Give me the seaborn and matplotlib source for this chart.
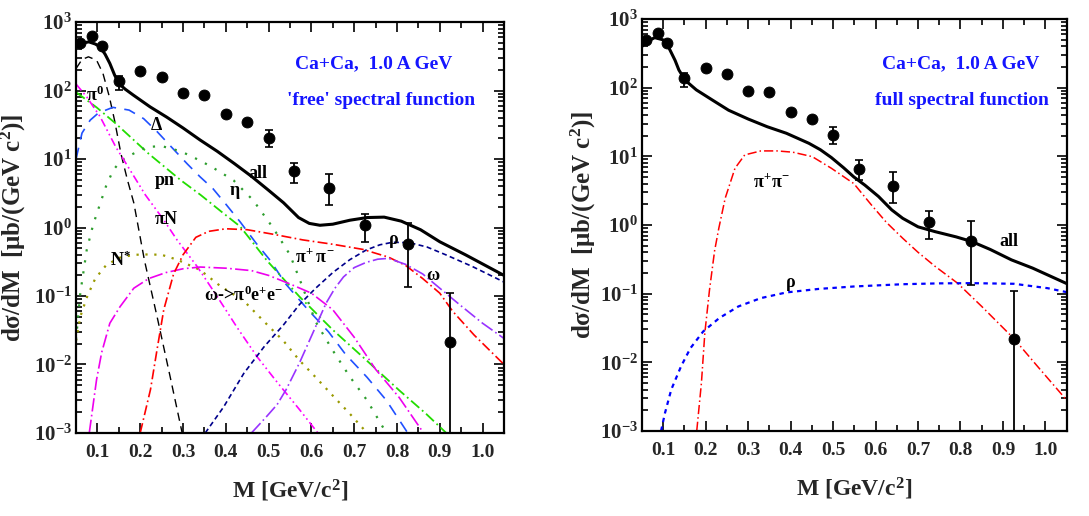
import matplotlib
matplotlib.use('Agg')
import numpy as np
import matplotlib.pyplot as plt
import matplotlib.ticker as mticker
import seaborn as sns

# --- measured points (same in both panels)
m_data = [0.06, 0.087, 0.11, 0.15, 0.2, 0.25, 0.3, 0.35, 0.4, 0.45, 0.5, 0.56, 0.64, 0.725, 0.825, 0.925]
y_data = [495, 635, 450, 139, 192, 156, 91, 87, 45, 35, 20.5, 6.6, 3.75, 1.1, 0.58, 0.0215]
y_low = [495, 635, 450, 103, 192, 156, 91, 87, 45, 35, 15, 4.5, 2.1, 0.62, 0.135, 0.0001]
y_high = [495, 635, 450, 165, 192, 156, 91, 87, 45, 35, 27, 8.8, 6.0, 1.6, 1.16, 0.11]

# --- left panel: 'free' spectral function
all_free_x = [0.05, 0.065, 0.08, 0.095, 0.106, 0.118, 0.129, 0.14, 0.15, 0.165, 0.184, 0.223, 0.262, 0.30, 0.34,
              0.38, 0.42, 0.46, 0.50, 0.535, 0.57, 0.595, 0.62, 0.65, 0.69, 0.73, 0.77, 0.81, 0.855, 0.90, 0.96, 1.05]
all_free_y = [430, 495, 516, 480, 437, 340, 250, 170, 127, 105, 86, 58, 41, 28.5, 19, 13, 8.6, 5.6, 3.5, 2.3,
              1.4, 1.15, 1.08, 1.12, 1.28, 1.40, 1.42, 1.24, 0.93, 0.62, 0.40, 0.2]
pi0_x = [0.05, 0.064, 0.079, 0.098, 0.113, 0.128, 0.14, 0.155, 0.17, 0.185, 0.21, 0.24, 0.27, 0.298]
pi0_y = [210, 285, 312, 279, 178, 81, 37, 12, 5.0, 2.3, 0.33, 0.048, 0.0066, 0.001]
delta_x = [0.05, 0.064, 0.083, 0.102, 0.136, 0.174, 0.208, 0.24, 0.273, 0.31, 0.34, 0.37, 0.40, 0.434, 0.47,
           0.504, 0.54, 0.59, 0.64, 0.68, 0.73, 0.775, 0.825]
delta_y = [10, 24, 37, 47, 57, 52, 39, 25, 15, 8.5, 5.5, 3.7, 2.2, 1.2, 0.6, 0.33, 0.15, 0.065, 0.03, 0.014,
           0.0065, 0.003, 0.001]
pn_x = [0.05, 0.098, 0.143, 0.181, 0.219, 0.257, 0.295, 0.341, 0.39, 0.434, 0.496, 0.572, 0.65, 0.728, 0.805,
        0.868, 0.915]
pn_y = [95, 57, 33, 20, 12.1, 7.7, 4.9, 3.0, 1.7, 1.03, 0.33, 0.098, 0.032, 0.0116, 0.0042, 0.0019, 0.001]
eta_x = [0.05, 0.06, 0.075, 0.09, 0.106, 0.12, 0.137, 0.155, 0.184, 0.215, 0.25, 0.295, 0.34, 0.37, 0.418,
         0.464, 0.51, 0.55, 0.575, 0.61, 0.65, 0.69, 0.73, 0.775]
eta_y = [0.023, 0.11, 0.47, 1.1, 2.2, 4.0, 6.9, 9.5, 12, 15, 15.5, 13, 9.5, 7.5, 4.9, 2.5, 1.0, 0.4, 0.16,
         0.042, 0.016, 0.0066, 0.003, 0.001]
piN_x = [0.05, 0.075, 0.106, 0.143, 0.181, 0.212, 0.255, 0.286, 0.333, 0.38, 0.426, 0.473, 0.52, 0.572, 0.615]
piN_y = [125, 81, 42, 15, 6.2, 3.0, 1.29, 0.66, 0.27, 0.098, 0.035, 0.013, 0.0055, 0.0022, 0.001]
nstar_x = [0.05, 0.06, 0.076, 0.095, 0.12, 0.15, 0.185, 0.22, 0.25, 0.286, 0.34, 0.387, 0.442, 0.49, 0.535,
           0.572, 0.61, 0.65, 0.69, 0.73]
nstar_y = [0.022, 0.05, 0.098, 0.18, 0.28, 0.36, 0.40, 0.405, 0.40, 0.34, 0.24, 0.14, 0.085, 0.042, 0.022,
           0.0115, 0.0065, 0.0035, 0.0019, 0.001]
omdal_x = [0.081, 0.098, 0.11, 0.129, 0.153, 0.185, 0.22, 0.26, 0.30, 0.34, 0.40, 0.46, 0.50, 0.55, 0.60,
           0.65, 0.70, 0.75, 0.805, 0.862]
omdal_y = [0.001, 0.006, 0.015, 0.04, 0.07, 0.13, 0.18, 0.22, 0.25, 0.265, 0.255, 0.235, 0.2, 0.15, 0.11,
           0.063, 0.025, 0.0085, 0.0033, 0.001]
pipi_free_x = [0.2, 0.224, 0.239, 0.255, 0.278, 0.30, 0.33, 0.36, 0.40, 0.45, 0.51, 0.58, 0.65, 0.72, 0.78,
               0.82, 0.86, 0.90, 0.93, 0.98, 1.05]
pipi_free_y = [0.001, 0.0043, 0.016, 0.063, 0.21, 0.40, 0.72, 0.88, 0.96, 0.93, 0.8, 0.66, 0.57, 0.48, 0.37,
               0.28, 0.18, 0.11, 0.06, 0.027, 0.01]
rho_free_x = [0.352, 0.395, 0.442, 0.489, 0.535, 0.572, 0.61, 0.65, 0.69, 0.728, 0.76, 0.79, 0.83, 0.87,
              0.914, 0.976, 1.05]
rho_free_y = [0.001, 0.0024, 0.0074, 0.018, 0.038, 0.075, 0.13, 0.22, 0.34, 0.47, 0.56, 0.61, 0.6, 0.52,
              0.4, 0.27, 0.16]
omega_x = [0.46, 0.494, 0.52, 0.541, 0.572, 0.603, 0.634, 0.655, 0.675, 0.70, 0.728, 0.755, 0.78, 0.82, 0.86,
           0.90, 0.946, 1.0, 1.05]
omega_y = [0.001, 0.0017, 0.0026, 0.0043, 0.0105, 0.0285, 0.078, 0.13, 0.19, 0.26, 0.31, 0.345, 0.355, 0.29,
           0.21, 0.13, 0.075, 0.04, 0.024]

# --- right panel: full spectral function
all_full_x = [0.05, 0.065, 0.08, 0.099, 0.11, 0.118, 0.128, 0.137, 0.152, 0.178, 0.216, 0.254, 0.30, 0.345,
              0.39, 0.443, 0.47, 0.496, 0.525, 0.549, 0.575, 0.607, 0.638, 0.664, 0.70, 0.74, 0.79, 0.826,
              0.87, 0.92, 0.97, 1.05]
all_full_y = [400, 480, 537, 500, 420, 334, 250, 181, 128, 93, 66, 47, 35, 27, 21.7, 15.5, 12.5, 9.6, 6.8,
              5.0, 3.8, 2.6, 1.66, 1.25, 0.94, 0.80, 0.67, 0.575, 0.44, 0.31, 0.235, 0.14]
pipi_full_x = [0.179, 0.19, 0.198, 0.209, 0.221, 0.231, 0.246, 0.269, 0.292, 0.33, 0.368, 0.405, 0.451, 0.496,
               0.549, 0.589, 0.625, 0.664, 0.70, 0.74, 0.793, 0.85, 0.926, 0.98, 1.05]
pipi_full_y = [0.001, 0.005, 0.0266, 0.113, 0.42, 0.9, 2.46, 6.7, 10.5, 12, 12, 11.5, 9.9, 6.7, 4.0, 2.0,
               1.1, 0.64, 0.4, 0.25, 0.142, 0.065, 0.022, 0.0089, 0.0028]
rho_full_x = [0.095, 0.104, 0.119, 0.142, 0.164, 0.194, 0.232, 0.277, 0.33, 0.39, 0.466, 0.549, 0.664, 0.75,
              0.826, 0.926, 1.005, 1.05]
rho_full_y = [0.001, 0.0018, 0.004, 0.0087, 0.016, 0.028, 0.044, 0.065, 0.086, 0.104, 0.117, 0.127, 0.137,
              0.141, 0.142, 0.139, 0.12, 0.105]

sns.set_theme(style='ticks')
plt.rcParams['font.family'] = ['Liberation Serif', 'DejaVu Serif']
plt.rcParams['font.weight'] = 'bold'
plt.rcParams['mathtext.fontset'] = 'custom'
plt.rcParams['mathtext.rm'] = 'Liberation Serif:bold'
plt.rcParams['mathtext.it'] = 'Liberation Serif:bold'
plt.rcParams['mathtext.bf'] = 'Liberation Serif:bold'

fig = plt.figure(figsize=(10.89, 5.16), dpi=100)
ax1 = fig.add_axes([0.0698, 0.161, 0.393, 0.796])
ax2 = fig.add_axes([0.5895, 0.165, 0.390, 0.798])


def curve(ax, x, y, color, ls, lw=1.2):
    sns.lineplot(x=x, y=y, ax=ax, color=color, linestyle=ls, linewidth=lw, sort=False, estimator=None)


def points(ax):
    lo = [v - l for v, l in zip(y_data, y_low)]
    hi = [h - v for v, h in zip(y_data, y_high)]
    ax.errorbar(m_data, y_data, yerr=[lo, hi], fmt='none', ecolor='black', elinewidth=1.3,
                capsize=3, capthick=1.2, zorder=5)
    sns.scatterplot(x=m_data, y=y_data, ax=ax, color='black', s=62, edgecolor='black', zorder=6)


def style(ax, label_x):
    ax.set_yscale('log')
    ax.set_xlim(0.05, 1.05)
    ax.set_ylim(1e-3, 1e3)
    ax.xaxis.set_major_locator(mticker.MultipleLocator(0.1))
    ax.xaxis.set_minor_locator(mticker.MultipleLocator(0.05))
    ax.xaxis.set_major_formatter(mticker.FormatStrFormatter('%.1f'))
    ax.yaxis.set_major_locator(mticker.LogLocator(base=10, numticks=10))
    ax.yaxis.set_minor_locator(mticker.LogLocator(base=10, subs=range(2, 10), numticks=20))
    ax.yaxis.set_major_formatter(mticker.FuncFormatter(lambda v, p: r'$10^{%d}$' % round(np.log10(v))))
    ax.yaxis.set_minor_formatter(mticker.NullFormatter())
    ax.tick_params(which='both', direction='in', top=True, right=True, width=1.2, color='black')
    ax.tick_params(which='major', length=7)
    ax.tick_params(which='minor', length=4)
    ax.tick_params(axis='x', labelsize=14, pad=8)
    ax.tick_params(axis='y', labelsize=15, pad=3)
    for sp in ax.spines.values():
        sp.set_linewidth(1.6)
        sp.set_color('black')
    ax.set_xlabel(r'M [GeV/c$^{2}$]', fontsize=17, fontweight='bold', labelpad=12)
    ax.set_ylabel(r'd$\sigma$/dM  [$\mu$b/(GeV c$^{2}$)]', fontsize=18, fontweight='bold')
    ax.yaxis.set_label_coords(label_x, 0.5)


# left panel
curve(ax1, pi0_x, pi0_y, 'black', (0, (6, 4)), 1.0)
curve(ax1, delta_x, delta_y, '#2050ff', (0, (7, 5)), 1.2)
curve(ax1, pn_x, pn_y, '#22dd00', (0, (6, 2, 1, 2)), 1.3)
curve(ax1, eta_x, eta_y, '#2e9e2e', (0, (1, 4)), 1.6)
curve(ax1, piN_x, piN_y, '#ff00ff', (0, (5, 2, 1, 2, 1, 2)), 1.2)
curve(ax1, nstar_x, nstar_y, '#999900', (0, (1, 3)), 1.6)
curve(ax1, omdal_x, omdal_y, '#ee00ee', (0, (8, 2, 1, 2)), 1.2)
curve(ax1, pipi_free_x, pipi_free_y, '#ff0000', (0, (6, 2, 1, 2)), 1.2)
curve(ax1, rho_free_x, rho_free_y, '#00008b', (0, (3, 2)), 1.2)
curve(ax1, omega_x, omega_y, '#9933ff', (0, (8, 2, 1, 2)), 1.2)
curve(ax1, all_free_x, all_free_y, 'black', '-', 2.2)
points(ax1)
style(ax1, -0.112)

lab = dict(fontsize=13, fontweight='bold', color='black', ha='center', va='center')
ax1.text(0.095, 85, r'$\pi^{0}$', **lab)
ax1.text(0.239, 31, r'$\Delta$', **lab)
ax1.text(0.258, 4.9, 'pn', **lab)
ax1.text(0.421, 3.2, r'$\eta$', **lab)
ax1.text(0.476, 6.2, 'all', **lab)
ax1.text(0.262, 1.29, r'$\pi$N', **lab)
ax1.text(0.153, 0.33, r'N$^{*}$', **lab)
ax1.text(0.608, 0.37, r'$\pi^{+}\,\pi^{-}$', **lab)
ax1.text(0.791, 0.62, r'$\rho$', **lab)
ax1.text(0.885, 0.2, r'$\omega$', **lab)
ax1.text(0.441, 0.104, r'$\omega$->$\pi^{0}$e$^{+}$e$^{-}$', **lab)
blue = dict(fontsize=14, fontweight='bold', color='#1515ff', ha='center', va='center')
ax1.text(0.746, 250, 'Ca+Ca,  1.0 A GeV', **blue)
ax1.text(0.762, 73, "'free' spectral function", **blue)

# right panel
curve(ax2, pipi_full_x, pipi_full_y, '#ff0000', (0, (6, 2, 1, 2)), 1.1)
curve(ax2, rho_full_x, rho_full_y, '#0000ff', (0, (2, 2)), 1.6)
curve(ax2, all_full_x, all_full_y, 'black', '-', 2.2)
points(ax2)
style(ax2, -0.104)
ax2.text(0.356, 4.3, r'$\pi^{+}\pi^{-}$', **lab)
ax2.text(0.399, 0.134, r'$\rho$', **lab)
ax2.text(0.914, 0.57, 'all', **lab)
ax2.text(0.80, 226, 'Ca+Ca,  1.0 A GeV', **blue)
ax2.text(0.804, 66, 'full spectral function', **blue)

fig.savefig('out.png', dpi=100)
